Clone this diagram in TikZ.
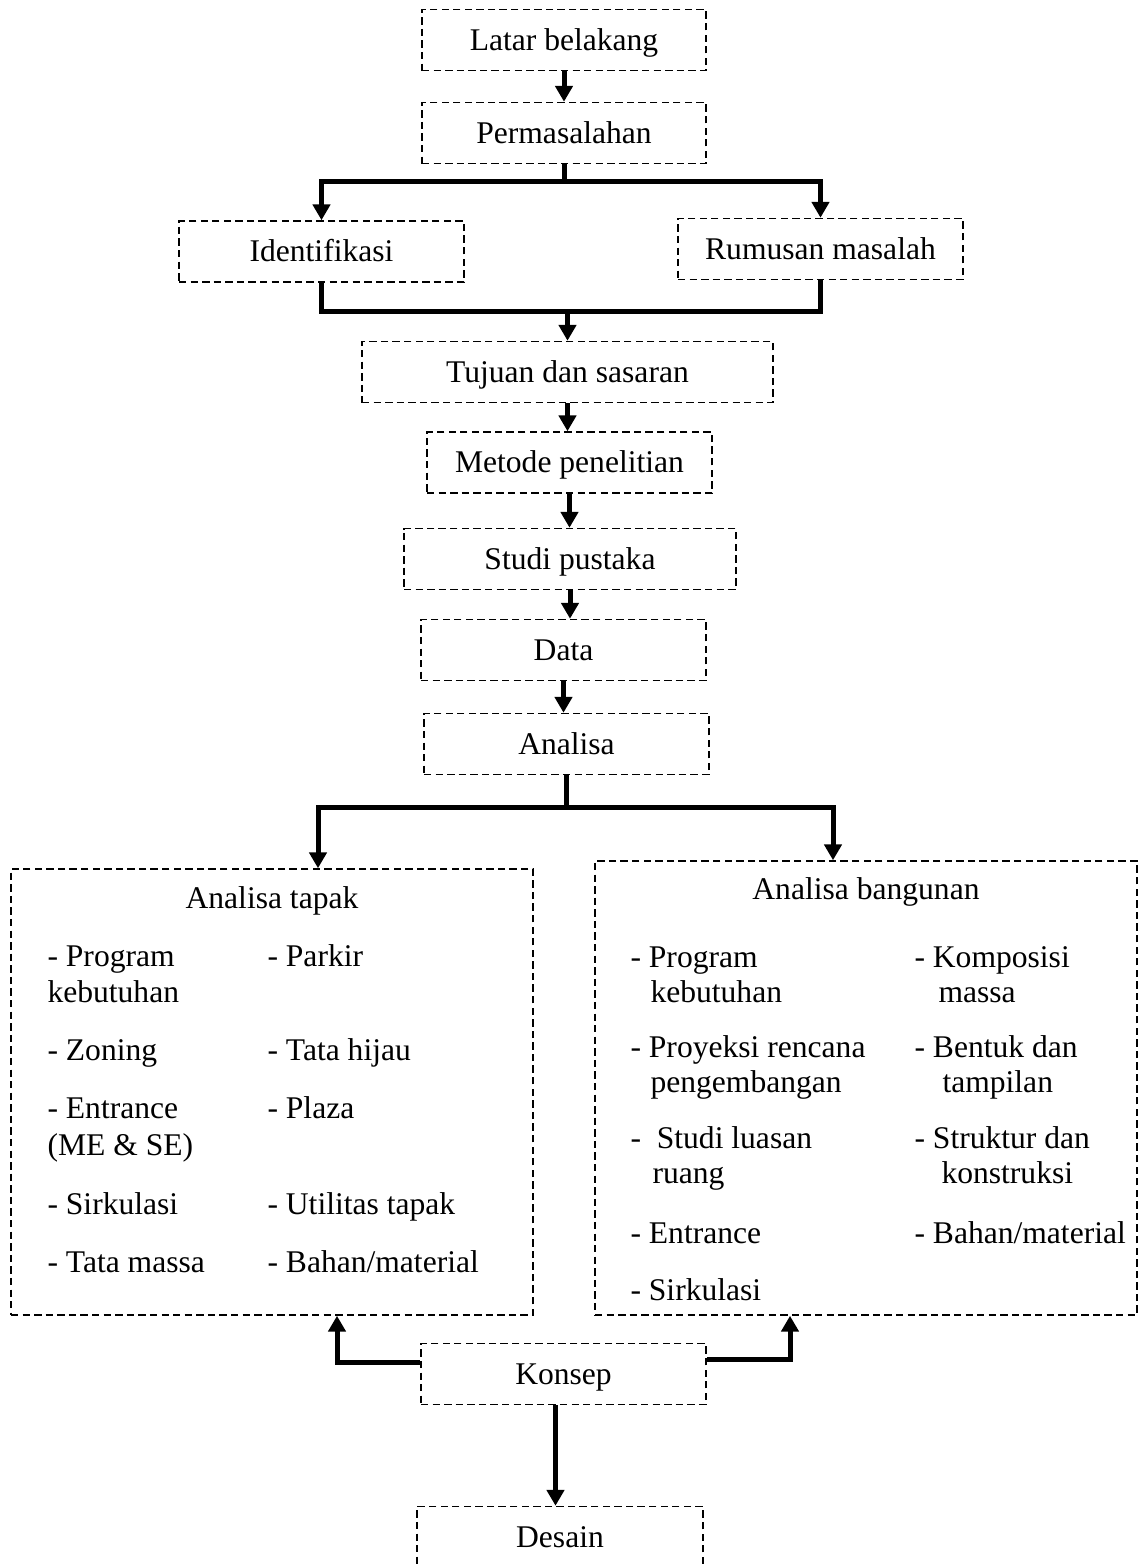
\documentclass[tikz,border=0pt]{standalone}
\usepackage{fontspec}
\setmainfont{Liberation Serif}
\usetikzlibrary{arrows.meta}

\def\satuan{0.38pt}
\tikzset{
  kotak/.style={draw, line width=0.6pt, dash pattern=on 2.8pt off 1.6pt,
    inner sep=0pt, text height=10pt, text depth=2.4pt},
  garis/.style={line width=1.9pt},
  panah/.style={garis, -{Triangle[width=6.5pt,length=6pt]}},
  isi/.style={anchor=base west, inner sep=0pt}
}

\begin{document}
\begin{tikzpicture}[x=\satuan, y=-\satuan, font=\fontsize{12}{14}\selectfont]
  \useasboundingbox (0,0) rectangle (1141,1564);

  % Kotak alur utama
  \foreach \nama/\x/\y/\lebar/\teks in {
      latar/564/40/284/{Latar belakang},
      masalah/564/133/284/{Permasalahan},
      identifikasi/321.5/251.5/285/{Identifikasi},
      rumusan/820.5/249/285/{Rumusan masalah},
      tujuan/567.5/372/411/{Tujuan dan sasaran},
      metode/569.5/462.5/285/{Metode penelitian},
      studi/570/559/332/{Studi pustaka},
      data/563.5/650/285/{Data},
      analisa/566.5/744/285/{Analisa},
      konsep/563.5/1374/285/{Konsep},
      desain/560/1537/286/{Desain}} {
    \node[kotak, minimum width=\lebar*\satuan, minimum height=61*\satuan] (\nama) at (\x,\y) {\teks};
  }

  % Kotak analisa
  \node[kotak, minimum width=522*\satuan, minimum height=446*\satuan] (tapak) at (272,1092) {};
  \node[kotak, minimum width=542*\satuan, minimum height=454*\satuan] (bangunan) at (866,1088) {};
  \node[anchor=base, inner sep=0pt] (judultapak) at (272,908) {Analisa tapak};
  \node[anchor=base, inner sep=0pt] (judulbangunan) at (866,899) {Analisa bangunan};

  \foreach \x/\y/\teks [count=\i] in {
      47/966/{- Program}, 47/1002/{kebutuhan}, 47/1060/{- Zoning},
      47/1118/{- Entrance}, 47/1155/{(ME \& SE)}, 47/1214/{- Sirkulasi},
      47/1272/{- Tata massa},
      267/966/{- Parkir}, 267/1060/{- Tata hijau}, 267/1118/{- Plaza},
      267/1214/{- Utilitas tapak}, 267/1272/{- Bahan/material}} {
    \node[isi] (itemtapak\i) at (\x,\y) {\teks};
  }

  \foreach \x/\y/\teks [count=\i] in {
      630/967/{- Program}, 650/1002/{kebutuhan},
      630/1057/{- Proyeksi rencana}, 650/1092/{pengembangan},
      630/1148/{-\ \ Studi luasan}, 652/1183/{ruang},
      630/1243/{- Entrance}, 630/1300/{- Sirkulasi},
      914/967/{- Komposisi}, 938/1002/{massa},
      914/1057/{- Bentuk dan}, 942/1092/{tampilan},
      914/1148/{- Struktur dan}, 941/1183/{konstruksi},
      914/1243/{- Bahan/material}} {
    \node[isi] (itembangunan\i) at (\x,\y) {\teks};
  }

  % Panah atas
  \draw[panah] (latar) -- (masalah);
  \coordinate (cabang1) at (564,181);
  \draw[panah] (cabang1) -| (identifikasi.north);
  \draw[panah] (masalah.south) -- (cabang1) -| (rumusan.north);

  \coordinate (gabung) at (567.5,311);
  \draw[garis] (identifikasi.south) |- (gabung) -| (rumusan.south);
  \draw[panah] (gabung) -- (tujuan.north);

  \draw[panah] (tujuan.south) -- (tujuan.south |- metode.north);
  \draw[panah] (metode.south) -- (metode.south |- studi.north);
  \draw[panah] (studi.south) -- (studi.south |- data.north);
  \draw[panah] (data.south) -- (data.south |- analisa.north);

  % Cabang analisa
  \coordinate (cabang2) at (566.5,807);
  \draw[panah] (cabang2) -| ([xshift=46*\satuan]tapak.north);
  \draw[panah] (analisa.south) -- (cabang2) -| ([xshift=-33*\satuan]bangunan.north);

  % Konsep ke atas dan ke bawah
  \draw[panah] ([yshift=12*\satuan]konsep.west) -| ([xshift=65*\satuan]tapak.south);
  \draw[panah] ([yshift=15*\satuan]konsep.east) -| ([xshift=-76*\satuan]bangunan.south);
  \draw[panah] ([xshift=-8*\satuan]konsep.south) coordinate (turun) -- (turun |- desain.north);
\end{tikzpicture}
\end{document}
